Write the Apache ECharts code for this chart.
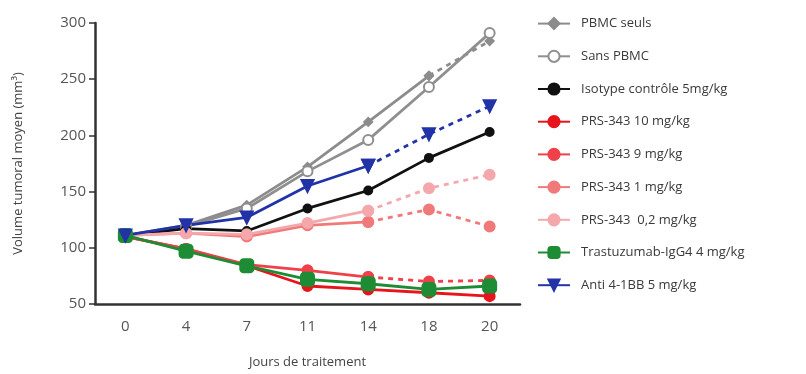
<!DOCTYPE html>
<html>
<head>
<meta charset="utf-8">
<script src="https://cdn.jsdelivr.net/npm/echarts@6/dist/echarts.min.js"></script>
<style>
  html, body { margin: 0; padding: 0; background: #fff; }
  #chart { width: 806px; height: 374px; }
</style>
</head>
<body>
<div id="chart"></div>
<script>
// Days of treatment (x categories) and tick labels
const days = ['0', '4', '7', '11', '14', '18', '20'];
const yTicks = [50, 100, 150, 200, 250, 300];

// Mean tumour volume (mm³) per group
const pbmcSeuls   = [111, 120, 138, 172, 212, 253, 284];
const sansPbmc    = [111, 119, 135, 168, 196, 243, 291];
const isotype     = [111, 117, 115, 135, 151, 180, 203];
const prs10       = [110, 99, 84, 66, 63, 60, 57];
const prs9        = [110, 99, 85, 80, 74, 70, 71];
const prs1        = [111, 113, 110, 120, 123, 134, 119];
const prs02       = [111, 113, 112, 122, 133, 153, 165];
const trastuzumab = [111, 97, 84, 72, 68, 63, 66];
const anti41bb    = [111, 120, 127, 155, 173, 201, 226];

// Group definitions: name, values, colour, marker, index from which the line is dashed
const groups = [
  { name: 'PBMC seuls', data: pbmcSeuls, color: '#8c8c8c', symbol: 'diamond', size: 8, fill: '#8c8c8c', dashFrom: 5 },
  { name: 'Sans PBMC', data: sansPbmc, color: '#8f8f8f', symbol: 'circle', size: 10, fill: '#ffffff', dashFrom: null },
  { name: 'Isotype contrôle 5mg/kg', data: isotype, color: '#111111', symbol: 'circle', size: 8, fill: '#111111', dashFrom: null },
  { name: 'PRS-343 10 mg/kg', data: prs10, color: '#e8141c', symbol: 'circle', size: 10, fill: '#e8141c', dashFrom: null },
  { name: 'PRS-343 9 mg/kg', data: prs9, color: '#f0404a', symbol: 'circle', size: 10, fill: '#f0404a', dashFrom: 4 },
  { name: 'PRS-343 1 mg/kg', data: prs1, color: '#f07a7a', symbol: 'circle', size: 10, fill: '#f07a7a', dashFrom: 4 },
  { name: 'PRS-343  0,2 mg/kg', data: prs02, color: '#f5a8ac', symbol: 'circle', size: 10, fill: '#f5a8ac', dashFrom: 4 },
  { name: 'Trastuzumab-IgG4 4 mg/kg', data: trastuzumab, color: '#1e8c34', symbol: 'roundRect', size: 13, fill: '#1e8c34', dashFrom: null },
  { name: 'Anti 4-1BB 5 mg/kg', data: anti41bb, color: '#2233a8', symbol: 'triangle', size: 12, fill: '#2233a8', dashFrom: 4, rotate: 180 }
];

const series = [];
groups.forEach(g => {
  const common = {
    type: 'line',
    name: g.name,
    symbol: g.symbol,
    symbolSize: g.size,
    symbolRotate: g.rotate || 0,
    itemStyle: { color: g.fill, borderColor: g.color, borderWidth: 2 },
    connectNulls: false,
    z: 3
  };
  const solid = g.dashFrom == null ? g.data.slice()
    : g.data.map((v, i) => (i <= g.dashFrom ? v : null));
  series.push(Object.assign({}, common, {
    data: solid,
    lineStyle: { color: g.color, width: 2.8 }
  }));
  if (g.dashFrom != null) {
    series.push(Object.assign({}, common, {
      data: g.data.map((v, i) => (i >= g.dashFrom ? v : null)),
      lineStyle: { color: g.color, width: 2.8, type: [5, 5] }
    }));
  }
});

const chart = echarts.init(document.getElementById('chart'));
chart.setOption({
  animation: false,
  backgroundColor: '#ffffff',
  textStyle: { fontFamily: 'Open Sans, sans-serif' },
  grid: { left: 95, right: 286, top: 23, bottom: 67 },
  legend: {
    orient: 'vertical',
    left: 532,
    top: 12,
    itemWidth: 32,
    itemHeight: 14,
    itemGap: 19.5,
    data: groups.map(g => g.name),
    textStyle: { color: '#3a3a3a', fontSize: 13, padding: [0, 0, 0, 6], fontFamily: 'Open Sans, sans-serif' }
  },
  xAxis: {
    type: 'category',
    data: days,
    boundaryGap: true,
    name: 'Jours de traitement',
    nameLocation: 'middle',
    nameGap: 52,
    nameTextStyle: { color: '#444', fontSize: 13 },
    axisLine: { lineStyle: { color: '#333', width: 2.5 } },
    axisTick: { alignWithLabel: true, length: 5, lineStyle: { color: '#333', width: 1.5 } },
    axisLabel: { color: '#555', fontSize: 15, margin: 15 }
  },
  yAxis: {
    type: 'value',
    min: yTicks[0],
    max: yTicks[yTicks.length - 1],
    interval: 50,
    name: 'Volume tumoral moyen (mm³)',
    nameLocation: 'middle',
    nameGap: 70,
    nameTextStyle: { color: '#444', fontSize: 13 },
    axisLine: { show: true, lineStyle: { color: '#333', width: 2.5 } },
    axisTick: { show: true, length: 6, lineStyle: { color: '#333', width: 1.5 } },
    axisLabel: { color: '#555', fontSize: 15, margin: 9 },
    splitLine: { show: false }
  },
  series: series
});
</script>
</body>
</html>
